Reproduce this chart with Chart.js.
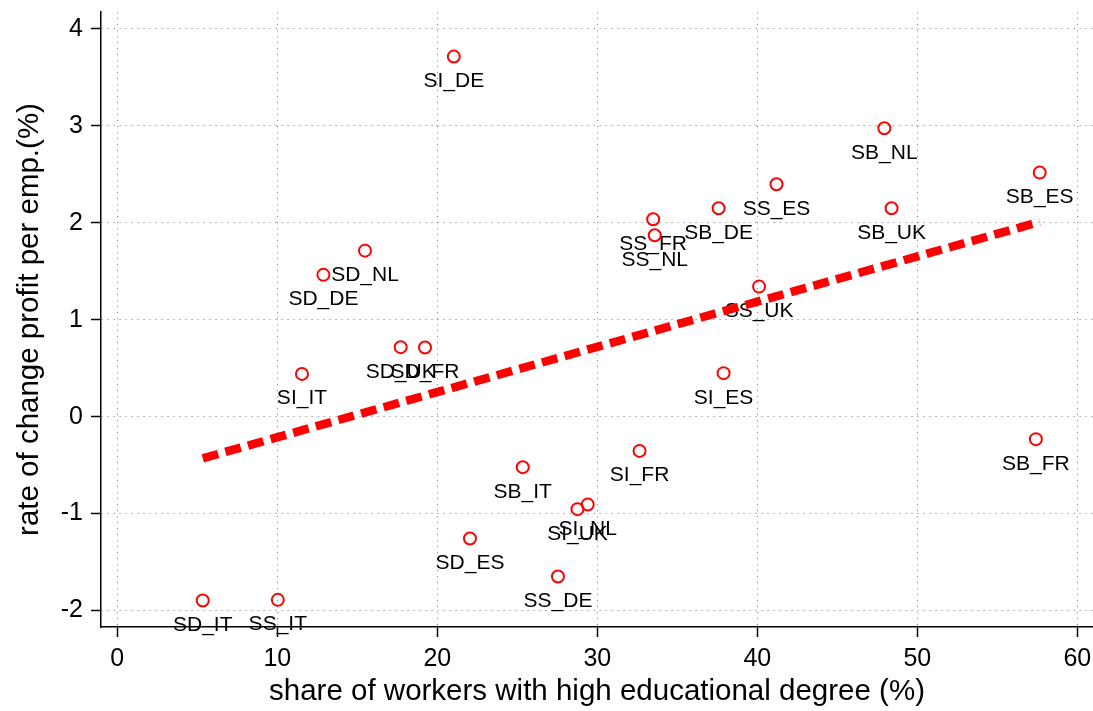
<!DOCTYPE html>
<html>
<head>
<meta charset="utf-8">
<script src="https://cdn.jsdelivr.net/npm/chart.js@4/dist/chart.umd.min.js"></script>
<style>
  html, body { margin: 0; padding: 0; background: #fff; }
  #wrap { width: 1093px; height: 711px; }
</style>
</head>
<body>
<div id="wrap"><canvas id="c" width="1093" height="711"></canvas></div>
<script>
// ---- data ----
const labels = ["SI_DE","SD_NL","SD_DE","SB_NL","SB_ES","SS_ES","SB_DE","SB_UK","SS_FR","SS_NL","SS_UK","SD_UK","SD_FR","SI_IT","SD_ES","SD_IT","SS_IT","SI_ES","SB_FR","SI_FR","SB_IT","SI_UK","SI_NL","SS_DE"];
const eduShare = [21.03,15.48,12.88,47.94,57.65,41.20,37.58,48.39,33.49,33.59,40.11,17.71,19.23,11.54,22.04,5.34,10.03,37.89,57.41,32.64,25.34,28.76,29.40,27.54];
const profitChange = [3.715,1.713,1.463,2.976,2.518,2.398,2.151,2.151,2.037,1.872,1.342,0.717,0.713,0.441,-1.257,-1.897,-1.890,0.449,-0.232,-0.353,-0.521,-0.954,-0.907,-1.649];
const fitX = [5.34, 57.65];
const fitY = [-0.43, 2.01];
const xTicks = [0,10,20,30,40,50,60];
const yTicks = [-2,-1,0,1,2,3,4];
const xTitle = "share of workers with high educational degree (%)";
const yTitle = "rate of change profit per emp.(%)";

const FONT = "'Liberation Sans', Arial, Helvetica, sans-serif";

const scatterData = eduShare.map((x, i) => ({x: x, y: profitChange[i]}));
const fitData = fitX.map((x, i) => ({x: x, y: fitY[i]}));

const labelPlugin = {
  id: 'pointLabels',
  beforeDatasetsDraw(chart) {
    const ctx = chart.ctx;
    const xs = chart.scales.x, ys = chart.scales.y;
    ctx.save();
    ctx.font = "21px " + FONT;
    ctx.fillStyle = "#000";
    ctx.textAlign = "center";
    ctx.textBaseline = "alphabetic";
    labels.forEach((lab, i) => {
      const px = xs.getPixelForValue(eduShare[i]);
      const py = ys.getPixelForValue(profitChange[i]);
      ctx.fillText(lab, px, py + 30.5);
    });
    ctx.restore();
  }
};

function fixFit(w, h) {
  return function(s) {
    if (w !== null) s.width = w;
    if (h !== null) s.height = h;
    s.paddingTop = 0; s.paddingBottom = 0; s.paddingLeft = 0; s.paddingRight = 0;
  };
}

new Chart(document.getElementById('c'), {
  type: 'scatter',
  data: {
    datasets: [
      {
        type: 'line',
        data: fitData,
        borderColor: '#ff0000',
        borderWidth: 8.5,
        borderDash: [16, 7.5],
        borderCapStyle: 'butt',
        pointRadius: 0,
        fill: false,
        tension: 0
      },
      {
        data: scatterData,
        pointStyle: 'circle',
        pointRadius: 6,
        pointBorderWidth: 2,
        pointBorderColor: '#ff0000',
        pointBackgroundColor: 'rgba(0,0,0,0)',
        showLine: false
      }
    ]
  },
  options: {
    responsive: false,
    animation: false,
    events: [],
    layout: { autoPadding: false, padding: { top: 12, right: 0, bottom: 0, left: 0 } },
    plugins: { legend: { display: false }, tooltip: { enabled: false } },
    scales: {
      x: {
        type: 'linear',
        min: -1.02,
        max: 60.98,
        afterBuildTicks: s => { s.ticks = xTicks.map(v => ({value: v})); },
        afterFit: fixFit(null, 84),
        grid: {
          color: '#8c8c8c',
          lineWidth: 1,
          tickColor: '#000',
          tickWidth: 1.5,
          tickLength: 10,
          tickBorderDash: []
        },
        border: { display: true, color: '#000', width: 1.5, dash: [1.2, 4.8] },
        ticks: {
          color: '#000',
          font: { family: FONT, size: 25 },
          padding: 7,
          maxRotation: 0,
          autoSkip: false,
          callback: v => String(v)
        },
        title: {
          display: true,
          text: xTitle,
          color: '#000',
          font: { family: FONT, size: 29.5 },
          padding: { top: 0, bottom: 1 }
        }
      },
      y: {
        type: 'linear',
        min: -2.17,
        max: 4.175,
        afterBuildTicks: s => { s.ticks = yTicks.map(v => ({value: v})); },
        afterFit: fixFit(101, null),
        grid: {
          color: '#8c8c8c',
          lineWidth: 1,
          tickColor: '#000',
          tickWidth: 1.5,
          tickLength: 10,
          tickBorderDash: []
        },
        border: { display: true, color: '#000', width: 1.5, dash: [1.2, 4.8] },
        ticks: {
          color: '#000',
          font: { family: FONT, size: 25 },
          padding: 8,
          autoSkip: false,
          callback: v => String(v)
        },
        title: {
          display: true,
          text: yTitle,
          color: '#000',
          font: { family: FONT, size: 29.5 },
          padding: { top: 12, bottom: 0 }
        }
      }
    }
  },
  plugins: [labelPlugin]
});
</script>
</body>
</html>
